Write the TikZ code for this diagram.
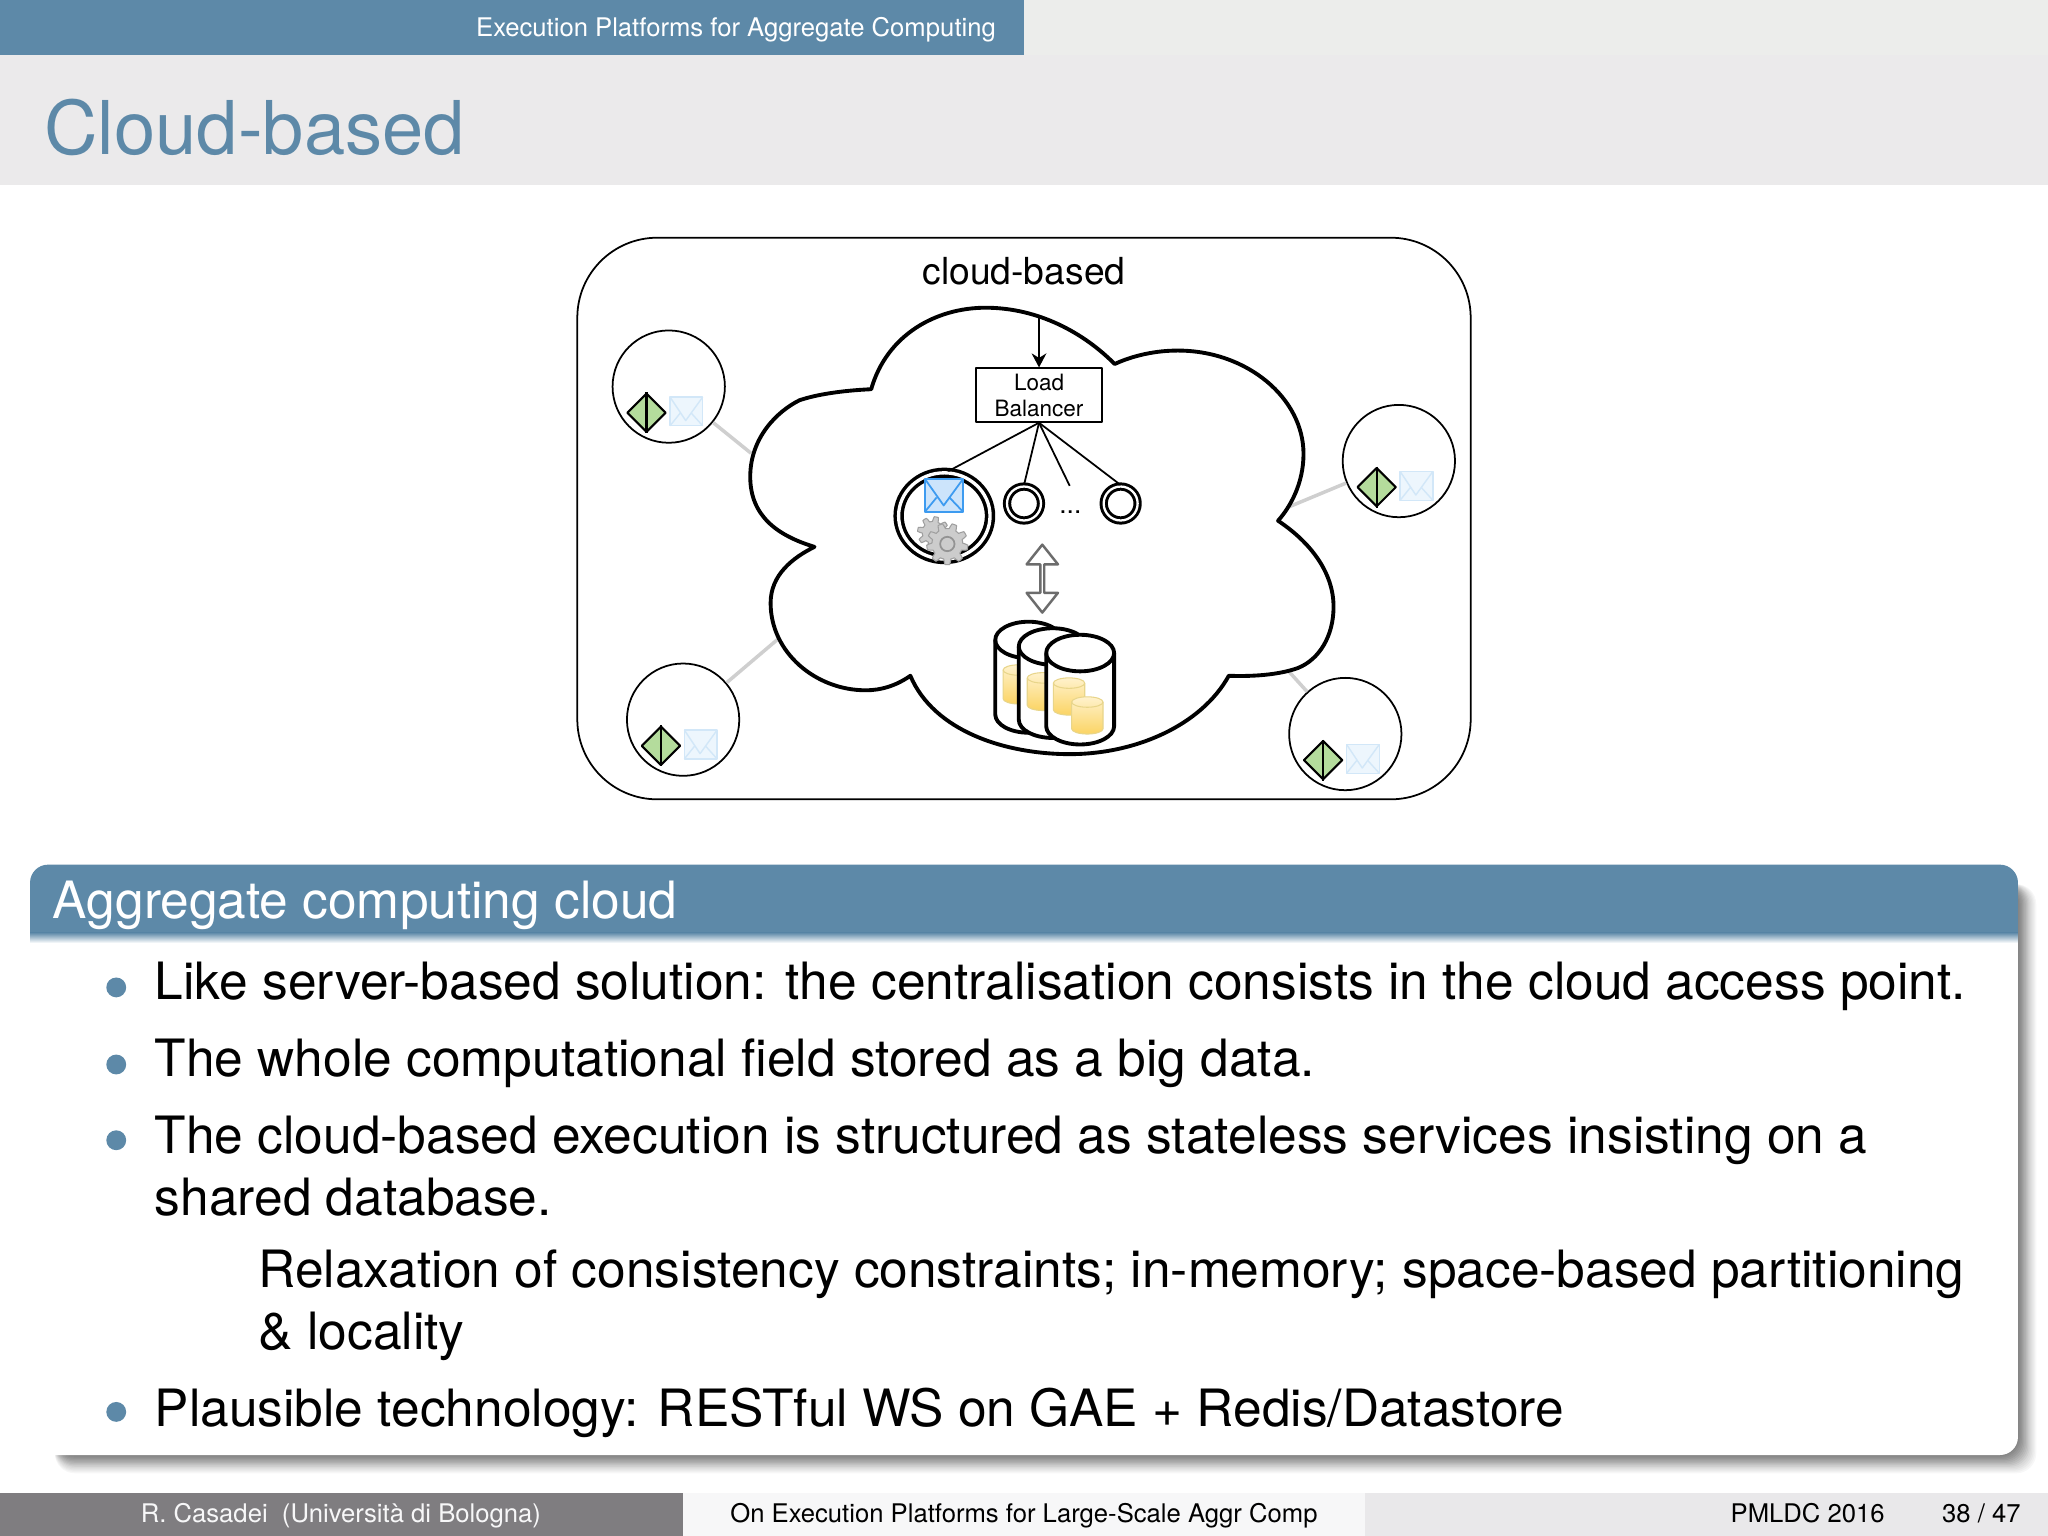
\documentclass[tikz,border=0pt]{standalone}
\usepackage{fontspec}
\setmainfont{TeX Gyre Heros}
\usetikzlibrary{shapes.geometric,shapes.arrows,arrows.meta}
\definecolor{slideblue}{HTML}{5D89A8}
\definecolor{barlight}{HTML}{EBEAEB}
\definecolor{striplight}{HTML}{ECEDEB}
\definecolor{footgray}{HTML}{7F7D80}
\definecolor{footmid}{HTML}{F7F7F8}
\definecolor{footright}{HTML}{E9E8EA}
\definecolor{linkgray}{HTML}{CFCFCF}
\definecolor{mailblue}{HTML}{3D9BF0}
\definecolor{mailfill}{HTML}{CCE4FB}
\definecolor{paleedge}{HTML}{D2E7F8}
\definecolor{palefill}{HTML}{EDF6FD}
\definecolor{nodegreen}{HTML}{B4DC9C}
\definecolor{dbtop}{HTML}{FFF2CC}
\definecolor{dbbottom}{HTML}{FBD464}
\definecolor{dbedge}{HTML}{E8D58A}
\newcommand{\fs}[1]{\fontsize{#1}{#1}\selectfont}
\begin{document}
\begin{tikzpicture}[
            x=0.0130612cm, y=-0.0130612cm,
            line join=round,
            bodytxt/.style={anchor=base west, inner sep=0, font=\fs{14.64}},
            foottxt/.style={anchor=base, inner sep=0, font=\fs{7.3}},
            clientnode/.style={circle, draw, line width=0.5pt, minimum size=86*0.0130612cm, inner sep=0},
            smallring/.style={circle, draw, line width=0.85pt, double, double distance=0.65pt, minimum size=26*0.0130612cm, inner sep=0},
            linkline/.style={linkgray, line width=1pt},
            lbline/.style={line width=0.5pt},
            dbcyl/.style={draw, fill=white, line width=1.1pt},
            tinycyl/.style={draw=dbedge, line width=0.3pt, top color=dbtop, bottom color=dbbottom},
            gearcog/.style={draw=gray!75, line width=0.3pt, fill=gray!40}
        ]
    \useasboundingbox (0,0) rectangle (1568,1176);

    % bars
    \fill[striplight] (784,0) rectangle (1568,42);
    \fill[barlight] (0,42) rectangle (1568,142);
    \fill[slideblue] (0,0) rectangle (784,42);
    \fill[footgray] (0,1143) rectangle (523,1176);
    \fill[footmid] (523,1143) rectangle (1045,1176);
    \fill[footright] (1045,1143) rectangle (1568,1176);
    \node[anchor=base east, inner sep=0, text=white, font=\fs{7.3}] (toptxt) at (763,28) {Execution Platforms for Aggregate Computing};
    \node[anchor=base west, inner sep=0, text=slideblue, font=\fs{21.1}] (title) at (33.5,118) {Cloud-based};
    \node[foottxt, text=footmid] (footl) at (261,1166) {R. Casadei\ \ (Università di Bologna)};
    \node[foottxt] (footm) at (784,1166) {On Execution Platforms for Large-Scale Aggr Comp};
    \node[foottxt] (footr) at (1384,1166) {PMLDC 2016};
    \node[foottxt] (footp) at (1517,1166) {38 / 47};

    % block and its shadow
    \foreach \s/\c in {14/3, 13/6, 12/9, 11/12, 10/15, 9/19, 8/23, 7/27, 6/31, 5/35, 4/39, 3/42, 2/45, 1/48, 0/50}
      \fill[black!\c, rounded corners=0.2cm] (42,677) rectangle (1545+\s,1114+\s);
    \fill[white, rounded corners=0.18cm] (23,700) rectangle (1545,1114);
    \fill[slideblue] (23,714) [rounded corners=0.18cm] -- (23,662) -- (1545,662) [sharp corners] -- (1545,714) -- cycle;
    \shade[top color=slideblue, bottom color=white] (23,714) rectangle (1545,722);
    \node[anchor=base west, inner sep=0, text=white, font=\fs{14.64}] (blockhead) at (40,703) {Aggregate computing cloud};

    \foreach \i/\y/\n in {1/765.3/{Like server-based solution: the centralisation consists in the cloud access point.},
        2/824.3/{The whole computational field stored as a big data.},
        3/883.3/{The cloud-based execution is structured as stateless services insisting on a},
        4/931/{shared database.},
        5/1092/{Plausible technology: RESTful WS on GAE + Redis/Datastore}}
        \node[bodytxt] (line\i) at (118,\y) {\n};
    \node[bodytxt] (sub1) at (197.5,986) {Relaxation of consistency constraints; in-memory; space-based partitioning};
    \node[bodytxt] (sub2) at (197.5,1033) {\& locality};
    \foreach \y in {756,815,873,1081}
      \fill[slideblue] (89,\y) circle (7.6);

    % diagram
    \draw[line width=0.5pt, rounded corners=0.8cm] (442,182) rectangle (1126,612);
    \node[inner sep=0, font=\fs{10.6}] (cloudlbl) at (784,208) {cloud-based};

    \coordinate (cloudnw) at (575,347);
    \coordinate (cloudne) at (987,388);
    \coordinate (cloudsw) at (596,489);
    \coordinate (cloudse) at (984,511);
    \coordinate (cloudtop) at (795.5,241);
    \coordinate (dotsend) at (819,372);

    \foreach \n/\x/\y/\t in {a/512/296/cloudnw, b/1071/353/cloudne, c/523/551/cloudsw, d/1030/562/cloudse} {
      \node[clientnode] (client\n) at (\x,\y) {};
      \draw[linkline] (client\n) -- (\t);
      \node[diamond, draw, fill=nodegreen, line width=0.6pt, minimum size=30*0.0130612cm, inner sep=0] (flag\n) at (\x-17,\y+20) {};
      \draw[line width=0.6pt] (flag\n.north) -- (flag\n.south);
      \draw[paleedge, fill=palefill, line width=0.4pt] (\x+1,\y+8) rectangle (\x+26,\y+30);
      \draw[paleedge, line width=0.4pt] (\x+1,\y+8) -- (\x+13,\y+26) -- (\x+26,\y+8) (\x+1,\y+30) -- (\x+9,\y+20) (\x+26,\y+30) -- (\x+17,\y+20);
    }

    \draw[line width=1.1pt, fill=white] (667,298)
      .. controls (679,256) and (717,235.6) .. (754.6,235.6)
      .. controls (795,235.6) and (830,255) .. (853.4,278.7)
      .. controls (868,272) and (885,268.4) .. (901.7,268.4)
      .. controls (955,268.4) and (998,305) .. (998,347.5)
      .. controls (998,370) and (988,388) .. (978.5,398.7)
      .. controls (1003,415) and (1021,438) .. (1021,464.6)
      .. controls (1021,487) and (1010,505) .. (993.6,511.5)
      .. controls (978,517) and (958,518) .. (940.8,517.4)
      .. controls (920,555) and (870,577.4) .. (819,577.4)
      .. controls (770,577.4) and (715,560) .. (697,517.4)
      .. controls (686,525) and (675,528.5) .. (662.7,528.5)
      .. controls (625,528.5) and (590,500) .. (590,461.7)
      .. controls (590,440) and (607,427) .. (623.6,418.7)
      .. controls (595,410) and (574.4,395) .. (574.4,365)
      .. controls (574.4,335) and (595,315) .. (612,306.5)
      .. controls (625,302) and (645,299) .. (667,298) -- cycle;

    \node[draw, fill=white, line width=0.5pt, minimum width=97*0.0130612cm, minimum height=41*0.0130612cm, inner sep=0, align=center, font=\fontsize{6.4}{7.4}\selectfont] (lb) at (795.5,302.5) {Load\\Balancer};
    \draw[-{Stealth[length=4pt,width=4.2pt]}, line width=0.5pt] (cloudtop) -- (cloudtop |- lb.north);

    \node[ellipse, draw, line width=1pt, double, double distance=0.95pt, minimum width=70*0.0130612cm, minimum height=66*0.0130612cm, inner sep=0] (svcbig) at (723,395) {};
    \node[smallring] (svca) at (784,385.5) {};
    \node[smallring] (svcb) at (858,385.5) {};
    \node[anchor=base, inner sep=0, font=\fs{7.5}] (dots) at (819.5,393.5) {...};
    \draw[lbline] (lb.south) -- (svcbig.85);
    \draw[lbline] (lb.south) -- (svca.north);
    \draw[lbline] (lb.south) -- (dotsend);
    \draw[lbline] (lb.south) -- (svcb.north);

    \draw[mailblue, fill=mailfill, line width=0.6pt] (708,366.5) rectangle (737.5,392);
    \draw[mailblue, line width=0.5pt] (708,366.5) -- (722.5,387) -- (737.5,366.5) (708,392) -- (717,381) (737.5,392) -- (727,381);
    \begin{scope}[shift={(714.5,407.6)}]
      \draw[gearcog] plot[domain=0:360, samples=97] (\x:{10.2+1.8*min(1,max(-1,3*sin(8*\x)))}) -- cycle;
    \end{scope}
    \begin{scope}[shift={(725.3,416.5)}]
      \draw[gearcog] plot[domain=0:360, samples=109] (\x:{13.8+2*min(1,max(-1,3*sin(9*\x)))}) -- cycle;
      \draw[draw=gray!85, line width=0.5pt] (0,0) circle (5.5);
    \end{scope}

    \node[double arrow, draw=gray!85!black, fill=white, line width=0.7pt, minimum width=24*0.0130612cm, minimum height=52*0.0130612cm, double arrow head extend=6.6*0.0130612cm, double arrow tip angle=77, inner sep=0, rotate=90] (syncarrow) at (798,443) {};

    % database
    \foreach \l/\r/\t/\b in {762/813/476/561, 780/832/481/565, 801/853/486/570} {
      \path[dbcyl] (\l,\t+14) arc[start angle=180, end angle=360, x radius=(\r-\l)/2, y radius=14]
        -- (\r,\b-14) arc[start angle=0, end angle=180, x radius=(\r-\l)/2, y radius=14] -- cycle;
      \draw[line width=1.1pt] (\l,\t+14) arc[start angle=180, end angle=0, x radius=(\r-\l)/2, y radius=14];
      \ifnum\l=762
        \draw[tinycyl] (768,513) arc[start angle=180, end angle=360, x radius=12, y radius=4] -- (792,535) arc[start angle=0, end angle=180, x radius=12, y radius=4] -- cycle;
        \draw[dbedge, line width=0.3pt] (768,513) arc[start angle=180, end angle=0, x radius=12, y radius=4];
      \fi
      \ifnum\l=780
        \draw[tinycyl] (786.5,519) arc[start angle=180, end angle=360, x radius=12, y radius=4] -- (810.5,540) arc[start angle=0, end angle=180, x radius=12, y radius=4] -- cycle;
        \draw[dbedge, line width=0.3pt] (786.5,519) arc[start angle=180, end angle=0, x radius=12, y radius=4];
      \fi
    }
    \foreach \l/\t/\b in {806.5/519/547.5, 820.5/533.5/562} {
      \draw[tinycyl] (\l,\t+4) arc[start angle=180, end angle=360, x radius=12, y radius=4] -- (\l+24,\b-4) arc[start angle=0, end angle=180, x radius=12, y radius=4] -- cycle;
      \draw[dbedge, line width=0.3pt] (\l,\t+4) arc[start angle=180, end angle=0, x radius=12, y radius=4];
    }

    \end{tikzpicture}
\end{document}
